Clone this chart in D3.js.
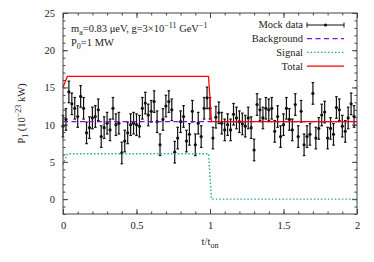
<!DOCTYPE html>
<html>
<head>
<meta charset="utf-8">
<script src="https://cdn.jsdelivr.net/npm/d3@7"></script>
<style>
  body { margin: 0; background: #fff; }
  svg text { font-family: "Liberation Serif", "DejaVu Serif", serif; font-size: 10.5px; fill: #222; }
</style>
</head>
<body>
<svg width="374" height="262"></svg>
<script>
const W = 374, H = 262
const margin = {top: 13, right: 17, bottom: 48, left: 63}

// mock data, one sample every 0.02 t_on
const sampleStep = 0.02
const mockPower = [
  9.8, 10.7, 14.4, 12.8, 12.2, 11.1, 13.8, 12.2, 8.9, 9.6,
  10.9, 11.1, 12.0, 8.4, 9.6, 10.2, 9.3, 12.2, 10.0, 10.2,
  6.2, 7.8, 8.9, 10.0, 10.2, 10.0, 9.8, 12.2, 12.9, 11.3,
  11.8, 13.1, 10.4, 7.3, 10.7, 12.5, 13.1, 12.0, 6.3, 8.2,
  10.4, 11.1, 7.8, 8.7, 11.8, 7.3, 10.2, 8.4, 12.2, 13.6,
  12.2, 8.2, 11.0, 11.6, 10.2, 9.3, 10.0, 9.3, 11.4, 10.9,
  10.4, 10.1, 9.8, 10.9, 9.6, 6.6, 12.7, 12.0, 10.9, 12.2,
  12.0, 12.2, 9.1, 11.1, 8.4, 10.0, 12.2, 10.7, 9.3, 12.7,
  8.4, 11.8, 7.3, 8.4, 8.7, 14.2, 8.2, 9.5, 11.3, 11.7,
  8.2, 9.5, 8.7, 12.3, 12.0, 9.8, 9.1, 10.9, 12.8, 11.1
]
const mockErr = 1.45

const modelTimes = [0, 0.03, 0.99, 1.01, 2]
const backgroundPower = [10.4, 10.4, 10.4, 10.4, 10.4]
const signalPower = [4.6, 6.1, 6.1, 0, 0]
const totalPower = [15.0, 16.5, 16.5, 10.4, 10.4]

const xTicks = [0, 0.5, 1, 1.5, 2]
const yTicks = [0, 5, 10, 15, 20, 25]

const legendItems = ['Mock data', 'Background', 'Signal', 'Total']

const COL_BG = '#9400d3'
const COL_SIG = '#22a6a6'
const COL_TOT = '#ff0000'
const COL_AX = '#444'

const width = W - margin.left - margin.right
const height = H - margin.top - margin.bottom

const svg = d3.select('svg')
const g = svg.append('g').attr('transform', `translate(${margin.left},${margin.top})`)

const x = d3.scaleLinear().domain([0, 2]).range([0, width])
const y = d3.scaleLinear().domain([-2, 25]).range([height, 0])

// axes: major + minor ticks on all four sides, pointing inward
const xMinor = x.ticks(20)
const yMinor = d3.range(-2, 26, 1)

function tickAxis(axisFn, scale, vals, size, pos, labels) {
  const ax = axisFn(scale).tickValues(vals).tickSizeInner(-size).tickSizeOuter(0)
  if (!labels) ax.tickFormat('')
  else ax.tickPadding(8).tickFormat(d3.format('~g'))
  const sel = g.append('g').attr('transform', pos).call(ax)
  sel.select('.domain').remove()
  sel.selectAll('line').attr('stroke', COL_AX)
  return sel
}
tickAxis(d3.axisBottom, x, xMinor, 2.5, `translate(0,${height})`, false)
tickAxis(d3.axisTop, x, xMinor, 2.5, 'translate(0,0)', false)
tickAxis(d3.axisLeft, y, yMinor, 2.5, 'translate(0,0)', false)
tickAxis(d3.axisRight, y, yMinor, 2.5, `translate(${width},0)`, false)
tickAxis(d3.axisTop, x, xTicks, 5, 'translate(0,0)', false)
tickAxis(d3.axisRight, y, yTicks, 5, `translate(${width},0)`, false)
tickAxis(d3.axisBottom, x, xTicks, 5, `translate(0,${height})`, true)
tickAxis(d3.axisLeft, y, yTicks, 5, 'translate(0,0)', true)
g.selectAll('.tick text').attr('font-size', null).attr('font-family', null)

// mock data with error bars
const data = mockPower.map((v, i) => ({t: i * sampleStep, v: v}))
const pts = g.append('g')
  .selectAll('g')
  .data(data)
  .join('g')
  .attr('stroke', '#111')
  .attr('stroke-width', 1.2)
pts.append('line')
  .attr('x1', d => x(d.t)).attr('x2', d => x(d.t))
  .attr('y1', d => y(d.v - mockErr)).attr('y2', d => y(d.v + mockErr))
pts.append('line')
  .attr('x1', d => x(d.t) - 1.3).attr('x2', d => x(d.t) + 1.3)
  .attr('y1', d => y(d.v - mockErr)).attr('y2', d => y(d.v - mockErr))
pts.append('line')
  .attr('x1', d => x(d.t) - 1.3).attr('x2', d => x(d.t) + 1.3)
  .attr('y1', d => y(d.v + mockErr)).attr('y2', d => y(d.v + mockErr))
pts.append('circle')
  .attr('cx', d => x(d.t)).attr('cy', d => y(d.v))
  .attr('r', 1.6).attr('fill', '#111').attr('stroke', 'none')

// model curves
const line = d3.line().x(d => x(d[0])).y(d => y(d[1]))
const curves = [
  {vals: backgroundPower, color: COL_BG, dash: '5,3.5', w: 1.3},
  {vals: signalPower, color: COL_SIG, dash: '1.5,2', w: 1.4},
  {vals: totalPower, color: COL_TOT, dash: null, w: 1.3}
]
g.append('g')
  .selectAll('path')
  .data(curves)
  .join('path')
  .attr('d', c => line(modelTimes.map((t, i) => [t, c.vals[i]])))
  .attr('fill', 'none')
  .attr('stroke', c => c.color)
  .attr('stroke-width', c => c.w)
  .attr('stroke-dasharray', c => c.dash)

// frame
g.append('rect')
  .attr('width', width).attr('height', height)
  .attr('fill', 'none').attr('stroke', COL_AX).attr('stroke-width', 1)

// legend
const legX = 305, legY0 = 25, legDy = 13.7
const leg = svg.append('g')
  .selectAll('g')
  .data(legendItems)
  .join('g')
  .attr('transform', (d, i) => `translate(${legX},${legY0 + i * legDy})`)
leg.append('text')
  .attr('text-anchor', 'end').attr('dy', '0.33em').attr('x', -2)
  .attr('font-size', '11px')
  .text(d => d)
leg.each(function(d, i) {
  const s = d3.select(this)
  if (i === 0) {
    s.append('line').attr('x1', 2).attr('x2', 39).attr('stroke', '#111').attr('stroke-width', 1.2)
    s.append('line').attr('x1', 2).attr('x2', 2).attr('y1', -2.5).attr('y2', 2.5).attr('stroke', '#111')
    s.append('line').attr('x1', 39).attr('x2', 39).attr('y1', -2.5).attr('y2', 2.5).attr('stroke', '#111')
    s.append('circle').attr('cx', 20.5).attr('r', 1.6).attr('fill', '#111')
  } else {
    const c = curves[i - 1]
    s.append('line').attr('x1', 2).attr('x2', 39)
      .attr('stroke', c.color).attr('stroke-width', c.w)
      .attr('stroke-dasharray', c.dash)
  }
})

// rich text helper: parts are [text, 'sub' | 'sup' | null]
function richText(sel, parts) {
  let shift = 0
  parts.forEach(([str, kind]) => {
    const target = kind === 'sub' ? 3 : kind === 'sup' ? -4 : 0
    const ts = sel.append('tspan').attr('dy', target - shift).text(str)
    if (kind) ts.attr('font-size', '8px')
    shift = target
  })
}

richText(svg.append('text').attr('x', 71).attr('y', 32).attr('font-size', '11px'), [
  ['m', null], ['a', 'sub'], ['=0.83 \u03bceV, g=3\u00d710', null], ['\u221211', 'sup'],
  [' GeV', null], ['\u22121', 'sup']
])
richText(svg.append('text').attr('x', 71).attr('y', 46).attr('font-size', '11px'), [
  ['P', null], ['0', 'sub'], ['=1 MW', null]
])

// axis titles
richText(svg.append('text')
  .attr('transform', `translate(25,${margin.top + height / 2}) rotate(-90)`)
  .attr('text-anchor', 'middle').attr('font-size', '11px'), [
  ['P', null], ['1', 'sub'], [' (10', null], ['\u221223', 'sup'], [' kW)', null]
])
richText(svg.append('text')
  .attr('x', margin.left + width / 2).attr('y', 245)
  .attr('text-anchor', 'middle').attr('font-size', '11px'), [
  ['t/t', null], ['on', 'sub']
])
</script>
</body>
</html>
